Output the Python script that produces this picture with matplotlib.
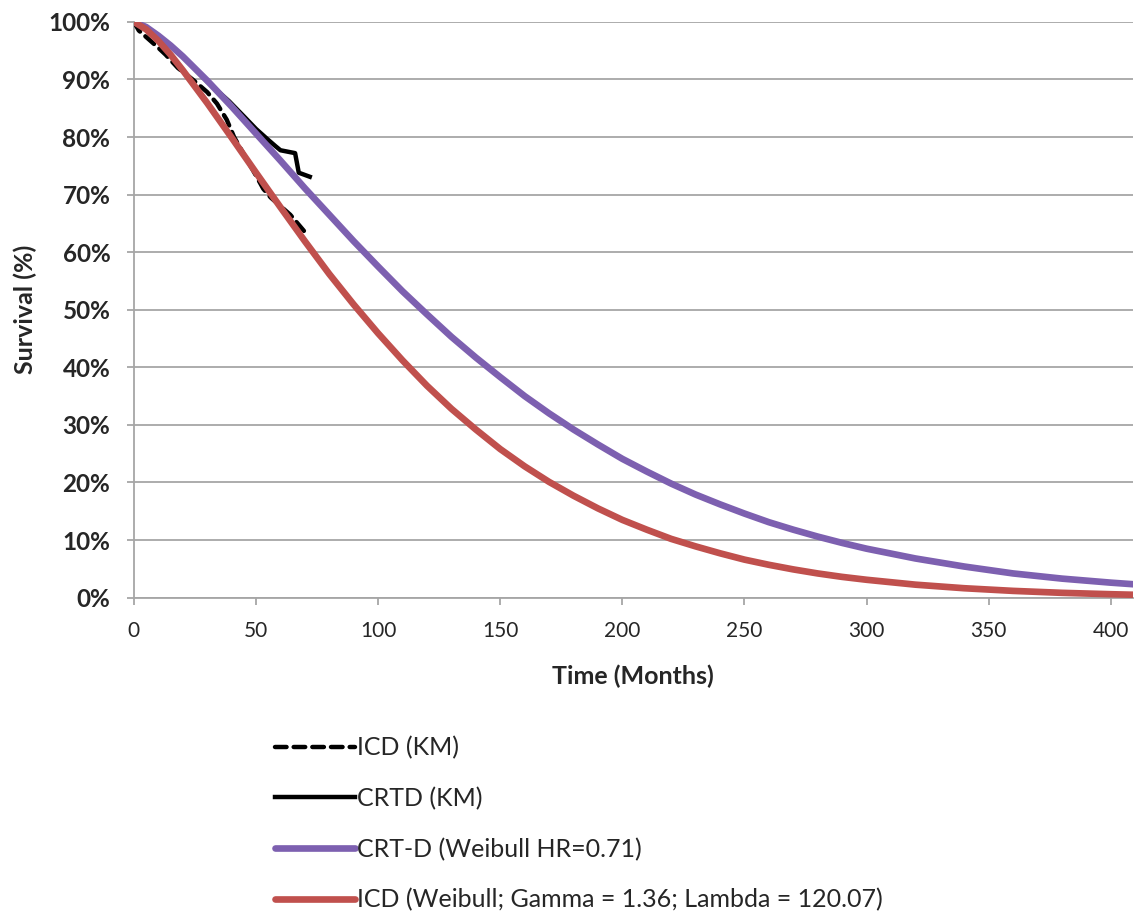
import matplotlib
matplotlib.use("Agg")
import matplotlib.pyplot as plt
from matplotlib.ticker import FuncFormatter

# ---- data ----
months_fit = [0, 5, 10, 15, 20, 30, 40, 50, 60, 70, 80, 90, 100, 110, 120, 130,
              140, 150, 160, 170, 180, 190, 200, 210, 220, 230, 240, 250, 260,
              270, 280, 290, 300, 320, 340, 360, 380, 400, 410]
icd_weibull = [1.000, 0.987, 0.967, 0.943, 0.916, 0.859, 0.799, 0.738, 0.678,
               0.619, 0.562, 0.509, 0.459, 0.412, 0.368, 0.328, 0.292, 0.258,
               0.228, 0.201, 0.177, 0.155, 0.135, 0.118, 0.102, 0.089, 0.077,
               0.066, 0.057, 0.049, 0.042, 0.036, 0.031, 0.0225, 0.0163,
               0.0117, 0.0083, 0.0059, 0.0049]
crtd_weibull = [1.000, 0.991, 0.976, 0.959, 0.940, 0.898, 0.853, 0.806, 0.759,
                0.711, 0.665, 0.619, 0.575, 0.532, 0.492, 0.453, 0.417, 0.383,
                0.350, 0.320, 0.292, 0.266, 0.241, 0.219, 0.198, 0.179, 0.162,
                0.146, 0.131, 0.118, 0.106, 0.095, 0.085, 0.068, 0.054, 0.042,
                0.033, 0.026, 0.023]

icd_km_t = [0, 2, 6, 10, 13, 18, 24, 30, 34, 38, 41, 45, 50, 53, 56, 60, 64, 68, 70]
icd_km_s = [1.000, 0.985, 0.970, 0.955, 0.943, 0.920, 0.900, 0.878, 0.858, 0.830,
            0.800, 0.770, 0.733, 0.710, 0.695, 0.680, 0.665, 0.645, 0.635]

crtd_km_t = [0, 10, 20, 30, 39, 45, 50, 55, 58, 60, 66, 67.5, 72]
crtd_km_s = [1.000, 0.976, 0.940, 0.896, 0.862, 0.836, 0.814, 0.795, 0.784,
             0.777, 0.772, 0.738, 0.731]

x_ticks = [0, 50, 100, 150, 200, 250, 300, 350, 400]
y_ticks = [0, 0.1, 0.2, 0.3, 0.4, 0.5, 0.6, 0.7, 0.8, 0.9, 1.0]

labels = ["ICD (KM)", "CRTD (KM)", "CRT-D (Weibull HR=0.71)",
          "ICD (Weibull; Gamma = 1.36; Lambda = 120.07)"]

# ---- styling ----
plt.rcParams['font.family'] = ['Lato', 'DejaVu Sans']
PURPLE = "#7d60b0"
RED = "#c0504d"
GRID = "#a6a6a6"
TXT = "#262626"

fig = plt.figure(figsize=(11.35, 9.11), dpi=100)
ax = fig.add_axes([0.118, 0.344, 0.880, 0.632])

l1, = ax.plot(icd_km_t, icd_km_s, color="black", lw=3.2, ls=(0, (2.6, 1.6)),
              zorder=3, dash_capstyle="round")
l2, = ax.plot(crtd_km_t, crtd_km_s, color="black", lw=3.2, zorder=3)
l3, = ax.plot(months_fit, crtd_weibull, color=PURPLE, lw=4.8, zorder=4,
              solid_capstyle="round", solid_joinstyle="round")
l4, = ax.plot(months_fit, icd_weibull, color=RED, lw=4.8, zorder=4,
              solid_capstyle="round", solid_joinstyle="round")

ax.set_xlim(0, 409)
ax.set_ylim(0, 1.0)
ax.set_xticks(x_ticks)
ax.set_yticks(y_ticks)
ax.yaxis.set_major_formatter(FuncFormatter(lambda v, p: f"{int(round(v*100))}%"))

ax.grid(axis="y", color=GRID, lw=1.3)
ax.set_axisbelow(True)
for s in ["top", "right"]:
    ax.spines[s].set_visible(False)
for s in ["left", "bottom"]:
    ax.spines[s].set_color(GRID)
    ax.spines[s].set_linewidth(1.3)

ax.tick_params(axis="both", color=GRID, width=1.3, length=5, direction="out")
ax.tick_params(axis="y", labelsize=17.5, labelcolor=TXT, pad=12)
ax.tick_params(axis="x", labelsize=15, labelcolor=TXT, pad=12)
for t in ax.get_yticklabels():
    t.set_fontweight("bold")

ax.set_xlabel("Time (Months)", fontsize=18, fontweight="bold", color=TXT, labelpad=17)
ax.set_ylabel("Survival (%)", fontsize=18, fontweight="bold", color=TXT, labelpad=8)

leg = fig.legend([l1, l2, l3, l4], labels, loc="upper left",
                 bbox_to_anchor=(0.2335, 0.203), frameon=False,
                 fontsize=18, handlelength=3.2, handletextpad=0.08,
                 labelspacing=1.1, borderaxespad=0)
for t in leg.get_texts():
    t.set_color(TXT)

fig.savefig("out.png", dpi=100)
